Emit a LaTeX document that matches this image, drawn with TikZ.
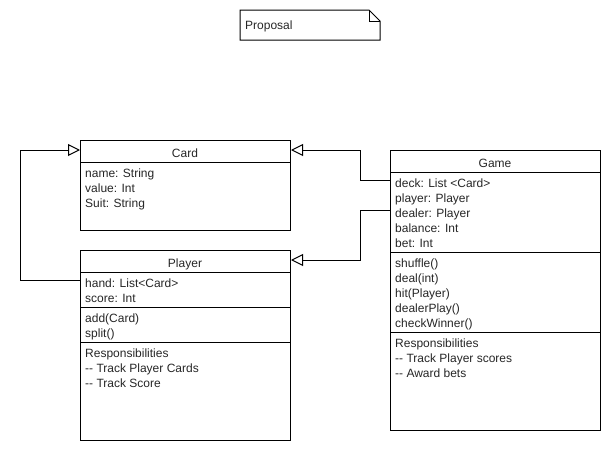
\documentclass[tikz,border=0pt]{standalone}
\usepackage{fontspec}
\setmainfont{Liberation Sans}
\usetikzlibrary{arrows.meta}
\newcommand{\dd}{\mbox{-}\mbox{-}}
\begin{document}
\begin{tikzpicture}[x=1pt,y=-1pt,
  box/.style={draw, line width=1pt, anchor=north west, inner sep=0pt, minimum width=210pt},
  txt/.style={font=\fontsize{12}{15}\selectfont, inner sep=0pt, anchor=base west, text=black!85},
  head/.style={font=\fontsize{12}{15}\selectfont, inner sep=0pt, anchor=base, text=black!85},
  sep/.style={line width=1pt},
  conn/.style={draw, line width=1pt, -{Triangle[open,length=12pt,width=12pt]}}]
\useasboundingbox (0,0) rectangle (610,450);

% Note
\draw[line width=1pt] (240,10) -- (369,10) -- (380,21) -- (380,40) -- (240,40) -- cycle;
\draw[line width=1pt] (369,10) -- (369,21) -- (380,21);
\node[txt] (note) at (245,29) {Proposal};

% Card
\node[box, minimum height=90pt] (card) at (80,140) {};
\draw[sep] ([yshift=-22pt]card.north west) -- ([yshift=-22pt]card.north east);
\node[head] (cardh) at (185,157) {Card};
\node[txt] (c1) at (85,177) {name: String};
\node[txt] (c2) at (85,192) {value: Int};
\node[txt] (c3) at (85,207) {Suit: String};

% Player
\node[box, minimum height=190pt] (player) at (80,250) {};
\draw[sep] ([yshift=-22pt]player.north west) -- ([yshift=-22pt]player.north east);
\draw[sep] ([yshift=-57pt]player.north west) -- ([yshift=-57pt]player.north east);
\draw[sep] ([yshift=-92pt]player.north west) -- ([yshift=-92pt]player.north east);
\node[head] (playerh) at (185,267) {Player};
\node[txt] (p1) at (85,287) {hand: List<Card>};
\node[txt] (p2) at (85,302) {score: Int};
\node[txt] (p3) at (85,322) {add(Card)};
\node[txt] (p4) at (85,337) {split()};
\node[txt] (p5) at (85,357) {Responsibilities};
\node[txt] (p6) at (85,372) {\dd{} Track Player Cards};
\node[txt] (p7) at (85,387) {\dd{} Track Score};

% Game
\node[box, minimum height=280pt] (game) at (390,150) {};
\draw[sep] ([yshift=-22pt]game.north west) -- ([yshift=-22pt]game.north east);
\draw[sep] ([yshift=-102pt]game.north west) -- ([yshift=-102pt]game.north east);
\draw[sep] ([yshift=-182pt]game.north west) -- ([yshift=-182pt]game.north east);
\node[head] (gameh) at (495,167) {Game};
\node[txt] (g1) at (395,187) {deck: List <Card>};
\node[txt] (g2) at (395,202) {player: Player};
\node[txt] (g3) at (395,217) {dealer: Player};
\node[txt] (g4) at (395,232) {balance: Int};
\node[txt] (g5) at (395,247) {bet: Int};
\node[txt] (g6) at (395,267) {shuffle()};
\node[txt] (g7) at (395,282) {deal(int)};
\node[txt] (g8) at (395,297) {hit(Player)};
\node[txt] (g9) at (395,312) {dealerPlay()};
\node[txt] (g10) at (395,327) {checkWinner()};
\node[txt] (g11) at (395,347) {Responsibilities};
\node[txt] (g12) at (395,362) {\dd{} Track Player scores};
\node[txt] (g13) at (395,377) {\dd{} Award bets};

% Connectors
\draw[conn] ([yshift=-30pt]player.north west) -- ++(-60,0) |- ([yshift=-10pt]card.north west);
\draw[conn] ([yshift=-30pt]game.north west) -- ++(-30,0) |- ([yshift=-10pt]card.north east);
\draw[conn] ([yshift=-60pt]game.north west) -- ++(-30,0) |- ([yshift=-10pt]player.north east);
\end{tikzpicture}
\end{document}
